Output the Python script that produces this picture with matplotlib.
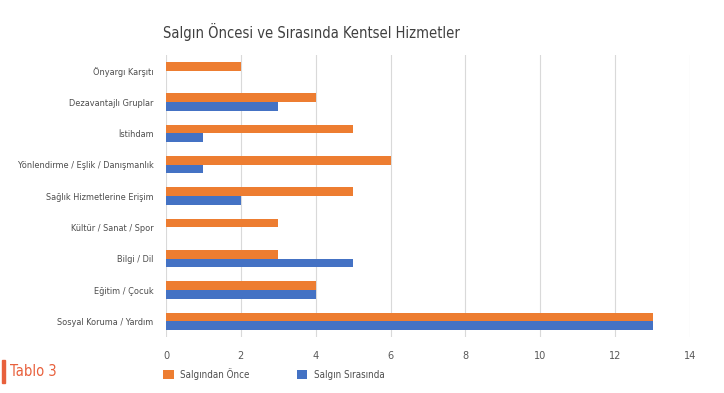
import matplotlib
matplotlib.use("Agg")
import matplotlib.pyplot as plt
import numpy as np

categories = ["Önyargı Karşıtı", "Dezavantajlı Gruplar", "İstihdam",
              "Yönlendirme / Eşlik / Danışmanlık", "Sağlık Hizmetlerine Erişim",
              "Kültür / Sanat / Spor", "Bilgi / Dil", "Eğitim / Çocuk",
              "Sosyal Koruma / Yardım"]
before = [2, 4, 5, 6, 5, 3, 3, 4, 13]
during = [0, 3, 1, 1, 2, 0, 5, 4, 13]
xticks = [0, 2, 4, 6, 8, 10, 12, 14]

plt.rcParams['font.family'] = ['DejaVu Sans']
plt.rcParams['font.stretch'] = 'condensed'

ORANGE = "#ED7D31"
BLUE = "#4472C4"
TXT = "#4d4d4d"

fig = plt.figure(figsize=(7.24, 3.93), dpi=100)
ax = fig.add_axes([166/724, 1-337/393, (690-166)/724, (337-55)/393])

n = len(categories)
y = np.arange(n)
h = 0.28
ax.barh(y - h/2, before, height=h, color=ORANGE, label="Salgından Önce", zorder=3)
ax.barh(y + h/2, during, height=h, color=BLUE, label="Salgın Sırasında", zorder=3)
ax.set_ylim(n - 0.5, -0.5)
ax.set_yticks(y)
ax.set_yticklabels(categories, fontsize=6.6, color=TXT)
ax.set_xlim(0, 14)
ax.set_xticks(xticks)
ax.set_xticklabels([str(t) for t in xticks], fontsize=7.8, color="#595959")
ax.grid(axis='x', color="#d9d9d9", linewidth=0.8, zorder=0)
for s in ax.spines.values():
    s.set_visible(False)
ax.tick_params(axis='y', length=0, pad=9)
ax.tick_params(axis='x', length=0, pad=10)

fig.text(163/724, 1-32/393, "Salgın Öncesi ve Sırasında Kentsel Hizmetler",
         fontsize=10.5, color="#404040", va='center', ha='left')

# legend
fig.legend(loc='center left', bbox_to_anchor=(163/724, 1-374/393), ncol=2,
           frameon=False, fontsize=7, handlelength=1.1, handleheight=1.1,
           handletextpad=0.7, columnspacing=4.8, labelcolor=TXT,
           borderaxespad=0, borderpad=0)

# Tablo 3 tag
fig.patches.append(plt.Rectangle((2/724, 1-383/393), 3/724, 23/393,
                                 transform=fig.transFigure, color="#E8603C"))
fig.text(10/724, 1-372/393, "Tablo 3", fontsize=10.5, color="#E8603C",
         va='center', ha='left', fontweight='light')

fig.savefig("out.png", dpi=100)
